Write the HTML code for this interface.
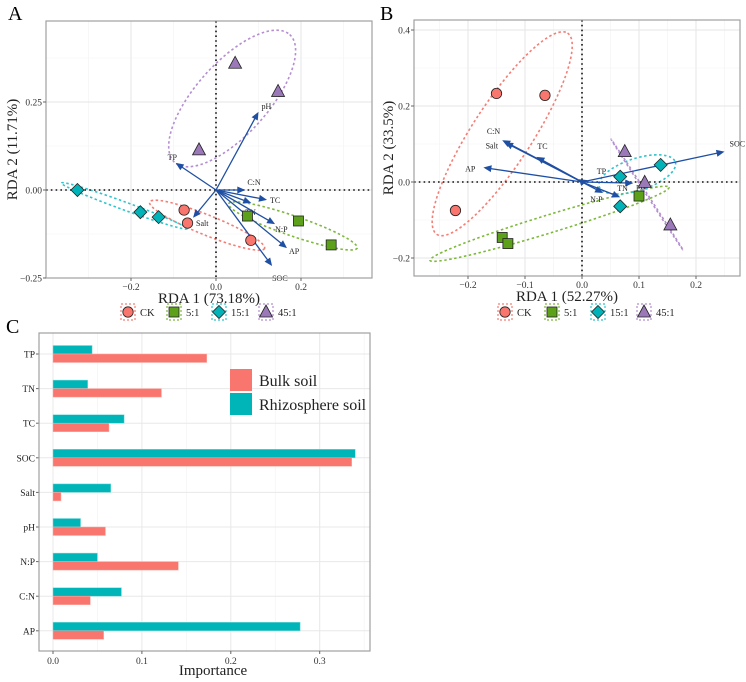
<!DOCTYPE html>
<html><head><meta charset="utf-8">
<style>
body{margin:0;background:#fff;}
svg{display:block;font-family:"Liberation Serif",serif;}
</style></head>
<body>
<svg id="fig" width="746" height="682" viewBox="0 0 746 682" xmlns="http://www.w3.org/2000/svg">
<text x="8" y="20" font-size="20">A</text>
<text x="380" y="20" font-size="20">B</text>
<text x="6" y="333" font-size="20">C</text>
<g id="pa"></g>
<g id="pb"></g>
<g id="pc"></g>
</svg>
<script>
const NS="http://www.w3.org/2000/svg";
function mk(parent,tag,attrs,txt){const e=document.createElementNS(NS,tag);for(const k in attrs)e.setAttribute(k,attrs[k]);if(txt!==undefined)e.textContent=txt;parent.appendChild(e);return e;}

// ---------- Panel A data ----------
const groupsA=["CK","5:1","15:1","45:1"];
const ptsAx=[[-0.075,-0.067,0.082],[0.074,0.194,0.271],[-0.326,-0.178,-0.135],[0.045,0.146,-0.04]];
const ptsAy=[[-0.057,-0.094,-0.143],[-0.074,-0.088,-0.156],[0.0,-0.063,-0.077],[0.36,0.28,0.114]];
const envA=["pH","TP","C:N","TC","TN","N:P","AP","SOC","Salt"];
const envAx=[0.1,-0.095,0.069,0.12,0.083,0.139,0.167,0.132,-0.054];
const envAy=[0.222,0.077,0.0,-0.028,-0.037,-0.097,-0.165,-0.216,-0.079];
const ticksAx=[-0.2,0.0,0.2];const ticksAy=[-0.25,0.0,0.25];
const ellAc=[[-0.021,-0.1],[0.181,-0.102],[-0.216,-0.045],[0.038,0.26]];
const ellAr=[[62,10],[68,10],[67,4],[86,36]];
const ellAa=[22,19,20,-48];

// ---------- Panel B data ----------
const ptsBx=[[-0.15,-0.065,-0.222],[-0.14,-0.13,0.1],[0.067,0.138,0.067],[0.075,0.11,0.155]];
const ptsBy=[[0.233,0.228,-0.075],[-0.146,-0.162,-0.037],[0.014,0.045,-0.064],[0.08,-0.001,-0.113]];
const envB=["C:N","Salt","TC","AP","TP","pH","N:P","TN","SOC"];
const envBx=[-0.14,-0.135,-0.08,-0.173,0.01,0.09,0.037,0.067,0.25];
const envBy=[0.11,0.104,0.066,0.038,0.005,-0.003,-0.029,-0.04,0.08];
const ticksBx=[-0.2,-0.1,0.0,0.1,0.2];const ticksBy=[-0.2,0.0,0.2,0.4];
const ellBc=[[-0.14,0.127],[-0.057,-0.11],[0.097,0.02],[0.114,-0.033]];
const ellBr=[[120,30],[125,9],[40,16],[66,0.6]];
const ellBa=[-57,-17,-18,57];

// ---------- Panel C data ----------
const varsC=["TP","TN","TC","SOC","Salt","pH","N:P","C:N","AP"];
const bulk=[0.173,0.122,0.063,0.336,0.009,0.059,0.141,0.042,0.057];
const rhizo=[0.044,0.039,0.080,0.340,0.065,0.031,0.050,0.077,0.278];
const ticksC=[0.0,0.1,0.2,0.3];

const COL=["#F8766D","#5DA11B","#00B3B8","#9B78B8"];
const ECOL=["#F57D74","#7DB83A","#2FC4CC","#B48ED0"];
const ARROW="#1F4FA3";

function marker(g,shape,cx,cy,fill,name){
  let e;
  if(shape===0)e=mk(g,"circle",{cx:cx,cy:cy,r:5.2,fill:fill,stroke:"#222","stroke-width":0.8});
  else if(shape===1)e=mk(g,"rect",{x:cx-5,y:cy-5,width:10,height:10,fill:fill,stroke:"#222","stroke-width":0.8});
  else if(shape===2)e=mk(g,"polygon",{points:`${cx},${cy-6.5} ${cx+6.5},${cy} ${cx},${cy+6.5} ${cx-6.5},${cy}`,fill:fill,stroke:"#222","stroke-width":0.8});
  else e=mk(g,"polygon",{points:`${cx},${cy-7} ${cx+6.5},${cy+5} ${cx-6.5},${cy+5}`,fill:fill,stroke:"#222","stroke-width":0.8});
  
  
  return e;
}

function rda(gid,cfg){
  const g=document.getElementById(gid);
  const X=v=>cfg.x0+v*cfg.sx, Y=v=>cfg.y0-v*cfg.sy;
  const L=cfg.box[0],T=cfg.box[1],R=cfg.box[2],B=cfg.box[3];
  mk(g,"rect",{x:L,y:T,width:R-L,height:B-T,fill:"#fff"});
  cfg.minx.forEach(v=>mk(g,"line",{x1:X(v),x2:X(v),y1:T,y2:B,stroke:"#f2f2f2","stroke-width":0.6}));
  cfg.miny.forEach(v=>mk(g,"line",{y1:Y(v),y2:Y(v),x1:L,x2:R,stroke:"#f2f2f2","stroke-width":0.6}));
  cfg.tx.forEach(v=>mk(g,"line",{x1:X(v),x2:X(v),y1:T,y2:B,stroke:"#e6e6e6","stroke-width":1}));
  cfg.ty.forEach(v=>mk(g,"line",{y1:Y(v),y2:Y(v),x1:L,x2:R,stroke:"#e6e6e6","stroke-width":1}));
  cfg.ec.forEach((c,i)=>{
    const e=mk(g,"ellipse",{cx:X(c[0]),cy:Y(c[1]),rx:cfg.er[i][0],ry:cfg.er[i][1],fill:"none",stroke:ECOL[i],"stroke-width":1.6,"stroke-dasharray":"2.5 2.5",transform:`rotate(${cfg.ea[i]} ${X(c[0])} ${Y(c[1])})`});
    
    
  });
  mk(g,"line",{x1:L,x2:R,y1:Y(0),y2:Y(0),stroke:"#111","stroke-width":1.6,"stroke-dasharray":"1.6 3.2"});
  mk(g,"line",{y1:T,y2:B,x1:X(0),x2:X(0),stroke:"#111","stroke-width":1.6,"stroke-dasharray":"1.6 3.2"});
  cfg.env.forEach((n,i)=>{
    const x2=X(cfg.evx[i]),y2=Y(cfg.evy[i]),x1=X(0),y1=Y(0);
    const ang=Math.atan2(y2-y1,x2-x1),h=8,w=3.5;
    const a=mk(g,"g",{});
    
    
    mk(a,"line",{x1:x1,y1:y1,x2:x2-Math.cos(ang)*h*0.7,y2:y2-Math.sin(ang)*h*0.7,stroke:ARROW,"stroke-width":1.3});
    const bx=x2-Math.cos(ang)*h,by=y2-Math.sin(ang)*h;
    mk(a,"polygon",{points:`${x2},${y2} ${bx-Math.sin(ang)*w},${by+Math.cos(ang)*w} ${bx+Math.sin(ang)*w},${by-Math.cos(ang)*w}`,fill:ARROW});
    const lo=cfg.lab[i];
    mk(a,"text",{x:x2+lo[0],y:y2+lo[1],"font-size":8,fill:"#222","text-anchor":lo[2]||"start"},n);
  });
  cfg.px.forEach((arr,gi)=>arr.forEach((v,j)=>marker(g,gi,X(v),Y(cfg.py[gi][j]),COL[gi],'point-'+cfg.groups[gi].replace(':','-').toLowerCase()+'-'+(j+1))));
  mk(g,"rect",{x:L,y:T,width:R-L,height:B-T,fill:"none",stroke:"#a0a0a0","stroke-width":1.2});
  cfg.tx.forEach(v=>{mk(g,"line",{x1:X(v),x2:X(v),y1:B,y2:B+3,stroke:"#666"});
    mk(g,"text",{x:X(v),y:B+12,"font-size":9.5,"text-anchor":"middle",fill:"#333"},(v<0?"\u2212":"")+Math.abs(v).toFixed(1));});
  cfg.ty.forEach(v=>{mk(g,"line",{x1:L-3,x2:L,y1:Y(v),y2:Y(v),stroke:"#666"});
    mk(g,"text",{x:L-4,y:Y(v)+3.5,"font-size":9.5,"text-anchor":"end",fill:"#333"},(v<0?"\u2212":"")+Math.abs(v).toFixed(cfg.yd));});
  const xt=mk(g,"text",{x:(L+R)/2+cfg.xto,y:B+25,"font-size":15,"text-anchor":"middle",fill:"#222"},cfg.xtitle);
  
  const yt=mk(g,"text",{x:0,y:0,"font-size":15,"text-anchor":"middle",fill:"#222",transform:`translate(${cfg.ytx},${(T+B)/2}) rotate(-90)`},cfg.ytitle);
  
  cfg.groups.forEach((n,i)=>{
    const kx=cfg.legx[i],ky=312;
    const le=mk(g,"g",{});
    
    
    mk(le,"rect",{x:kx-7,y:ky-8,width:14,height:16,fill:"none",stroke:ECOL[i],"stroke-width":1.2,"stroke-dasharray":"2 2"});
    marker(le,i,kx,ky,COL[i],'legend-key-'+n.replace(':','-').toLowerCase());
    mk(le,"text",{x:kx+12,y:ky+4,"font-size":10.5,fill:"#222"},n);
  });
}

rda("pa",{x0:216,sx:425,y0:190,sy:352,box:[46,21,372,278],
  tx:ticksAx,ty:ticksAy,minx:[-0.3,-0.1,0.1,0.3],miny:[-0.125,0.125,0.375],yd:2,
  px:ptsAx,py:ptsAy,env:envA,evx:envAx,evy:envAy,groups:groupsA,
  ec:ellAc,er:ellAr,ea:ellAa,
  lab:[[3,-3],[-8,-3],[2,-5],[3,3],[-6,12],[0,8],[2,6],[0,15],[3,8]],
  xtitle:"RDA 1 (73.18%)",xto:0,ytitle:"RDA 2 (11.71%)",ytx:17,legx:[128,174,219,266]});
rda("pb",{x0:582,sx:570,y0:182,sy:380,box:[414,20,740,276],
  tx:ticksBx,ty:ticksBy,minx:[-0.25,-0.15,-0.05,0.05,0.15,0.25],miny:[-0.1,0.1,0.3],yd:1,
  px:ptsBx,py:ptsBy,env:envB,evx:envBx,evy:envBy,groups:groupsA,
  ec:ellBc,er:ellBr,ea:ellBa,
  lab:[[-2,-6,"end"],[-7,6,"end"],[1,-8],[-8,4,"end"],[9,-6],[3,6],[-13,9],[-3,-6],[5,-5]],
  xtitle:"RDA 1 (52.27%)",xto:-10,ytitle:"RDA 2 (33.5%)",ytx:393,legx:[505,552,598,644]});

(function(){
  const g=document.getElementById("pc");
  const L=39,T=333,R=370,B=651,x0=53,sx=889,yTop=354,step=34.6;
  const X=v=>x0+v*sx, Yc=i=>yTop+i*step;
  mk(g,"rect",{x:L,y:T,width:R-L,height:B-T,fill:"#fff"});
  [0.05,0.15,0.25,0.35].forEach(v=>mk(g,"line",{x1:X(v),x2:X(v),y1:T,y2:B,stroke:"#f2f2f2","stroke-width":0.6}));
  ticksC.forEach(v=>mk(g,"line",{x1:X(v),x2:X(v),y1:T,y2:B,stroke:"#e8e8e8","stroke-width":1}));
  varsC.forEach((n,i)=>mk(g,"line",{x1:L,x2:R,y1:Yc(i),y2:Yc(i),stroke:"#e8e8e8","stroke-width":1}));
  varsC.forEach((n,i)=>{
    const r=mk(g,"rect",{x:X(0),y:Yc(i)-8.5,width:X(rhizo[i])-X(0),height:8.5,fill:"#00B5B8",stroke:"#7fdcdc","stroke-width":0.5});
    
    
    const b=mk(g,"rect",{x:X(0),y:Yc(i),width:X(bulk[i])-X(0),height:8.5,fill:"#F8766D",stroke:"#fbb0aa","stroke-width":0.5});
    
    
    mk(g,"line",{x1:L-3,x2:L,y1:Yc(i),y2:Yc(i),stroke:"#666"});
    mk(g,"text",{x:L-4,y:Yc(i)+3.5,"font-size":9.5,"text-anchor":"end",fill:"#222"},n);
  });
  mk(g,"rect",{x:L,y:T,width:R-L,height:B-T,fill:"none",stroke:"#a0a0a0","stroke-width":1.2});
  ticksC.forEach(v=>{mk(g,"line",{x1:X(v),x2:X(v),y1:B,y2:B+3,stroke:"#666"});
    mk(g,"text",{x:X(v),y:B+13,"font-size":9.5,"text-anchor":"middle",fill:"#333"},v.toFixed(1));});
  const xt=mk(g,"text",{x:213,y:675,"font-size":15,"text-anchor":"middle",fill:"#222"},"Importance");
  
  const lg=mk(g,"g",{});
  
  const l1=mk(lg,"g",{});
  mk(l1,"rect",{x:230,y:369,width:22,height:22,fill:"#F8766D"});
  mk(l1,"text",{x:259,y:386,"font-size":16,fill:"#222"},"Bulk soil");
  const l2=mk(lg,"g",{});
  mk(l2,"rect",{x:230,y:393,width:22,height:22,fill:"#00B5B8"});
  mk(l2,"text",{x:259,y:410,"font-size":16,fill:"#222"},"Rhizosphere soil");
})();
</script>
</body></html>
